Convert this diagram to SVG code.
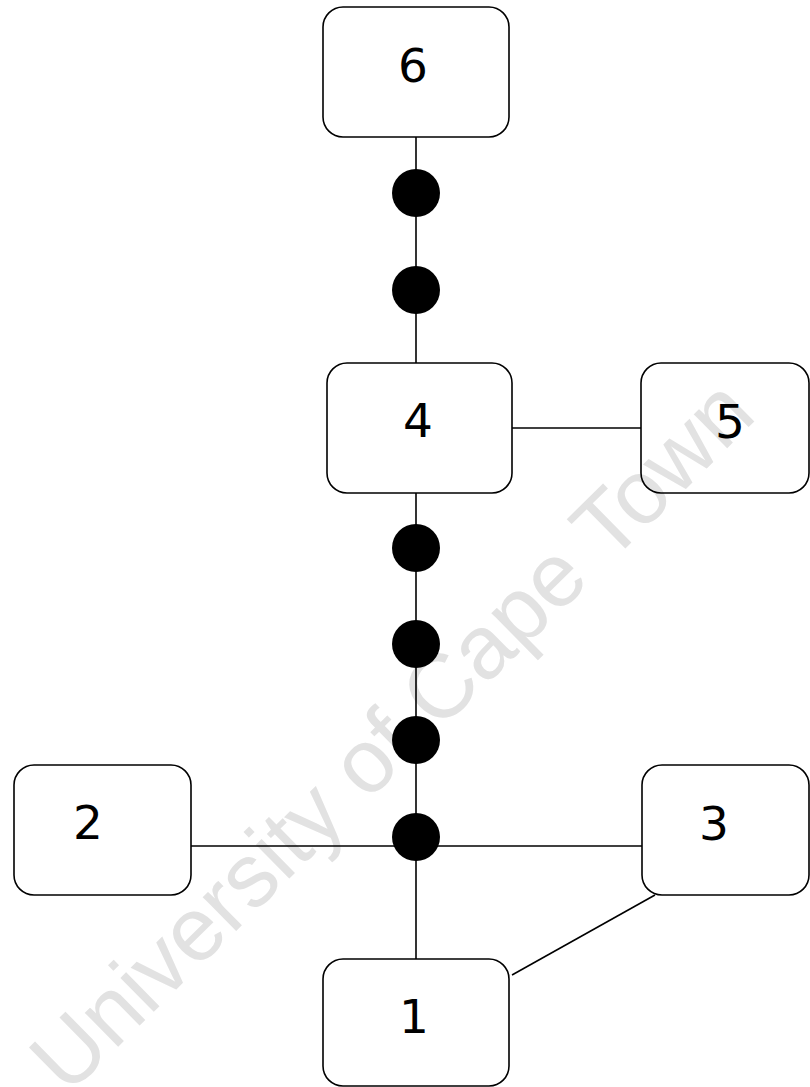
<svg xmlns="http://www.w3.org/2000/svg" width="810" height="1087" viewBox="0 0 810 1087">
<style>
.box{fill:none;stroke:#000;stroke-width:1.6}
.lbl{font-family:"DejaVu Sans",Verdana,sans-serif;font-size:47px;fill:#000;text-anchor:middle}
.edge{stroke:#000;stroke-width:1.6;fill:none}
.dot{fill:#000}
.wm{font-family:"Liberation Sans",Arial,sans-serif;font-size:90px;fill:#e2e2e2;text-anchor:middle}
</style>
<rect width="810" height="1087" fill="#ffffff"/>
<g id="watermark">
<text class="wm" x="413" y="757" transform="rotate(-44.5 413 757)">University of Cape Town</text>
</g>
<g id="connectors">
<line class="edge" x1="416" y1="137" x2="416" y2="363"/>
<line class="edge" x1="416" y1="493" x2="416" y2="959"/>
<line class="edge" x1="512" y1="428" x2="641" y2="428"/>
<line class="edge" x1="191" y1="846" x2="642" y2="846"/>
<line class="edge" x1="655" y1="895" x2="512" y2="975"/>
<circle class="dot" cx="416" cy="193" r="24"/>
<circle class="dot" cx="416" cy="290" r="24"/>
<circle class="dot" cx="416" cy="548" r="24"/>
<circle class="dot" cx="416" cy="644" r="24"/>
<circle class="dot" cx="416" cy="740" r="24"/>
<circle class="dot" cx="416" cy="837" r="24"/>
</g>
<g id="node6"><rect class="box" x="323" y="7" width="186" height="130" rx="20"/><text class="lbl" x="413" y="82">6</text></g>
<g id="node4"><rect class="box" x="327" y="363" width="185" height="130" rx="20"/><text class="lbl" x="418" y="437">4</text></g>
<g id="node5"><rect class="box" x="641" y="363" width="168" height="130" rx="20"/><text class="lbl" x="730" y="438">5</text></g>
<g id="node2"><rect class="box" x="14" y="765" width="177" height="130" rx="20"/><text class="lbl" x="88" y="839">2</text></g>
<g id="node3"><rect class="box" x="642" y="765" width="167" height="130" rx="20"/><text class="lbl" x="714" y="840">3</text></g>
<g id="node1"><rect class="box" x="323" y="959" width="186" height="127" rx="20"/><text class="lbl" x="414" y="1033">1</text></g>
</svg>
